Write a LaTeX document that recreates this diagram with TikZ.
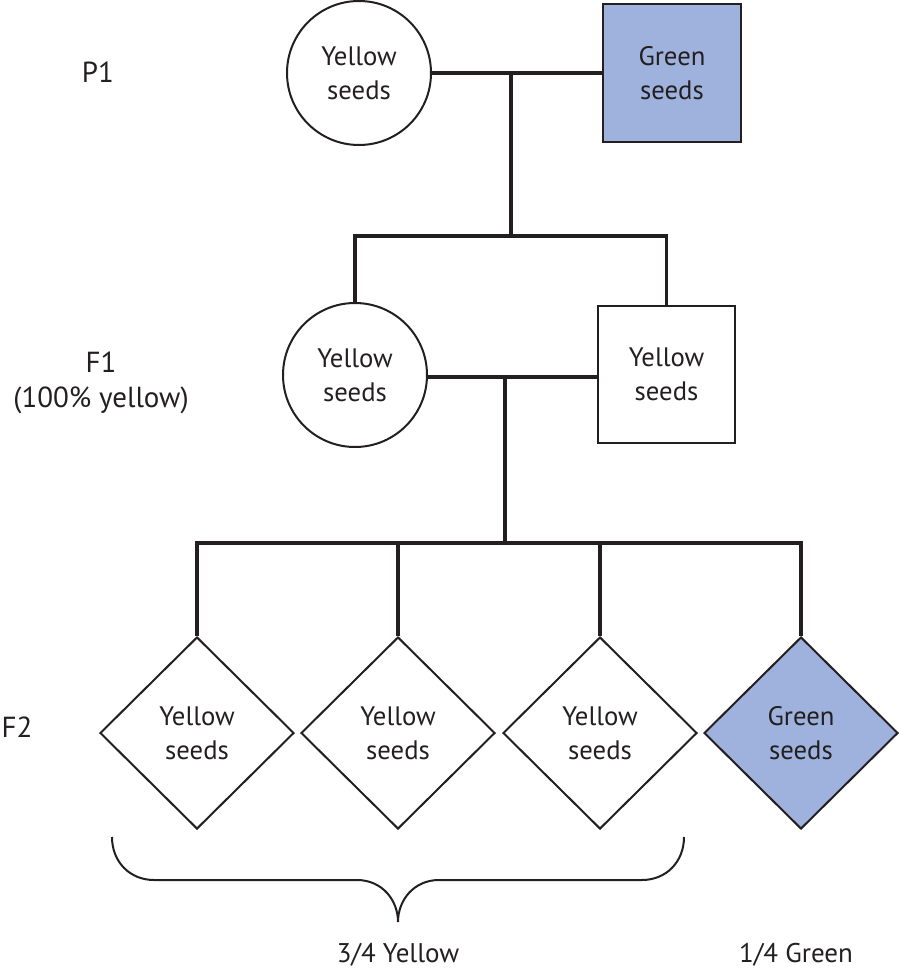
\documentclass[tikz,border=0pt]{standalone}
\usepackage{fontspec}
\setmainfont{PT Sans}
\usetikzlibrary{shapes.geometric}
\definecolor{seedblue}{RGB}{158,178,221}
\definecolor{ink}{RGB}{35,31,32}
\begin{document}
\begin{tikzpicture}[x=1pt,y=-1pt,
  every node/.style={text=ink,font=\fontsize{26.7}{34}\selectfont,align=center,inner sep=0pt},
  outline/.style={draw=ink,line width=2pt},
  circ/.style={outline,circle,minimum size=144pt},
  sq/.style={outline,rectangle,minimum width=137pt,minimum height=137pt},
  dia/.style={outline,diamond,aspect=1,minimum width=194pt,minimum height=192pt},
  link/.style={draw=ink,line width=3.2pt},
  lbl/.style={font=\fontsize{29}{36}\selectfont},
  frac/.style={font=\fontsize{27}{34}\selectfont}
]
\useasboundingbox (0,0) rectangle (900,971);
% P1
\node[circ] (p1c) at (359,73) {Yellow\\seeds};
\node[sq,fill=seedblue,minimum width=138pt] (p1s) at (672,73) {Green\\seeds};
% F1
\node[circ] (f1c) at (355,375) {Yellow\\seeds};
\node[sq] (f1s) at (666.5,374.5) {Yellow\\seeds};
% F2
\node[dia] (d1) at (197,733) {Yellow\\seeds};
\node[dia] (d2) at (398,733) {Yellow\\seeds};
\node[dia] (d3) at (600,733) {Yellow\\seeds};
\node[dia,fill=seedblue] (d4) at (801,733) {Green\\seeds};
% generation labels
\node[lbl] (lp1) at (98,72) {P1};
\node[lbl] (lf1) at (101,362) {F1};
\node[lbl] (lf1b) at (101,400) {(100\% yellow)};
\node[lbl] (lf2) at (17,727) {F2};
\node[frac] (ly) at (398,955) {3/4 Yellow};
\node[frac] (lg) at (796,955) {1/4 Green};
% connectors
\coordinate (j1) at (511,73);
\coordinate (b1) at (511,236);
\coordinate (j2) at (505,377);
\coordinate (b2) at (505,543);
\draw[link] (p1c.east) -- (p1s.west |- p1c.east);
\draw[link] (j1) -- (b1);
\draw[link] (f1c.north) |- (b1) -| (f1s.north);
\draw[link] (f1c.east |- j2) -- (f1s.west |- j2);
\draw[link] (j2) -- (b2);
\draw[link] (d1.north) |- (b2) -| (d4.north);
\draw[link] (d2.north) -- (d2.north |- b2);
\draw[link] (d3.north) -- (d3.north |- b2);
% brace
\draw[draw=ink,line width=2pt] (112,837) .. controls (112,862) and (130,880) .. (154,880)
  -- (357,880) .. controls (382,880) and (398,900) .. (398,922)
  .. controls (398,900) and (414,880) .. (439,880)
  -- (642,880) .. controls (666,880) and (684,862) .. (684,837);
\end{tikzpicture}
\end{document}
